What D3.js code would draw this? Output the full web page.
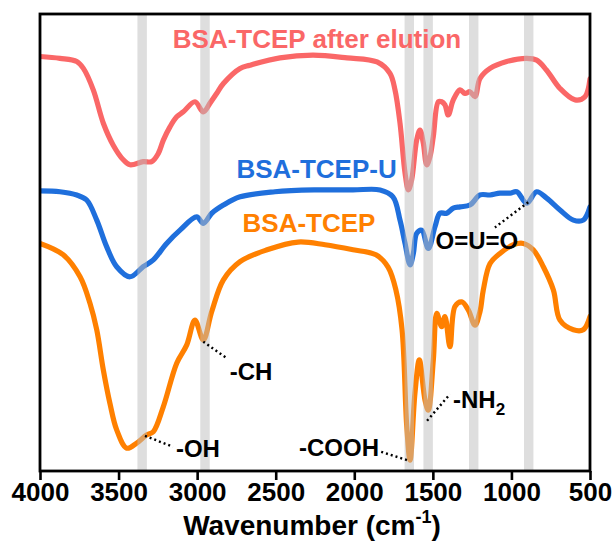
<!DOCTYPE html>
<html>
<head>
<meta charset="utf-8">
<script src="https://cdn.jsdelivr.net/npm/d3@7"></script>
<style>
  html, body { margin: 0; padding: 0; background: #fff; }
  svg { display: block; font-family: Arial, "Liberation Sans", sans-serif; font-weight: bold; }
</style>
</head>
<body>
<svg id="chart" width="615" height="542"></svg>
<script>
// FTIR spectra, [wavenumber cm-1, transmittance a.u.]
const afterElution = [
  [4000, 90.7], [3873, 90.3], [3766, 89.6], [3724, 88.1], [3661, 83.4], [3597, 76.1],
  [3534, 71.3], [3470, 68.1], [3427, 67.0], [3343, 67.7], [3289, 67.7], [3247, 69.5],
  [3215, 72.4], [3173, 75.3], [3130, 77.5], [3088, 78.6], [3014, 80.8], [2961, 78.6],
  [2918, 80.5], [2876, 82.6], [2833, 84.8], [2727, 88.1], [2664, 88.8], [2473, 90.4],
  [2263, 91.0], [2046, 90.4], [1855, 89.5], [1773, 87.0], [1741, 83.4], [1709, 76.1],
  [1677, 65.2], [1656, 61.5], [1635, 63.7], [1603, 72.4], [1582, 74.6], [1561, 71.8],
  [1539, 67.0], [1518, 68.8], [1497, 73.2], [1465, 80.8], [1444, 80.8], [1423, 80.1],
  [1402, 77.9], [1370, 81.2], [1327, 83.4], [1295, 82.6], [1264, 83.0], [1232, 81.9],
  [1200, 85.9], [1136, 88.1], [1030, 89.6], [903, 90.3], [839, 89.9], [776, 87.7],
  [691, 83.7], [595, 81.2], [532, 81.9], [500, 85.8]
]
const tcepU = [
  [4000, 61.3], [3873, 61.1], [3766, 60.4], [3703, 59.3], [3639, 54.9], [3576, 49.1],
  [3512, 44.7], [3427, 42.5], [3343, 44.7], [3279, 46.2], [3194, 49.8], [3109, 52.7],
  [3003, 55.6], [2961, 54.2], [2907, 56.4], [2833, 58.2], [2727, 60.0], [2505, 61.1],
  [2256, 61.5], [2008, 61.5], [1836, 61.5], [1754, 60.0], [1709, 54.9], [1677, 49.8],
  [1645, 45.1], [1624, 47.6], [1603, 52.0], [1571, 52.7], [1529, 48.7], [1486, 53.5],
  [1455, 56.4], [1412, 56.4], [1370, 57.5], [1327, 57.8], [1264, 58.2], [1200, 60.4],
  [1136, 60.4], [1073, 60.8], [1009, 60.8], [966, 61.1], [903, 58.6], [839, 61.1],
  [776, 59.7], [691, 57.1], [606, 54.9], [543, 54.9], [500, 57.8]
]
const tcep = [
  [4000, 49.8], [3852, 47.3], [3745, 42.5], [3682, 36.7], [3639, 30.9], [3597, 22.1],
  [3555, 14.8], [3512, 9.0], [3448, 5.0], [3385, 6.1], [3321, 7.9], [3279, 8.6],
  [3215, 14.1], [3130, 23.6], [3066, 27.6], [3014, 33.0], [2961, 28.7], [2907, 34.9],
  [2833, 41.8], [2727, 45.8], [2555, 48.4], [2358, 50.1], [2186, 49.5], [2008, 48.4],
  [1862, 47.3], [1785, 44.6], [1735, 39.6], [1696, 30.9], [1666, 9.7], [1645, 2.4],
  [1614, 17.0], [1586, 24.3], [1550, 15.5], [1529, 13.3], [1497, 24.3], [1475, 34.5],
  [1444, 31.6], [1423, 33.8], [1391, 27.2], [1359, 36.0], [1316, 37.0], [1274, 35.2],
  [1232, 31.9], [1200, 34.9], [1179, 39.6], [1136, 45.4], [1073, 47.6], [988, 49.5],
  [924, 49.8], [861, 48.4], [797, 44.7], [733, 39.6], [691, 33.0], [606, 30.9],
  [543, 30.9], [500, 33.8]
]

const seriesNames = ['BSA-TCEP after elution', 'BSA-TCEP-U', 'BSA-TCEP']
const seriesColors = ['#fa6767', '#1f6fdc', '#ff8000']
// where each series name sits [wavenumber, value]
const seriesLabelAt = [[2237, 92.6], [2240, 64.1], [2288, 52.3]]

// grey marker bands, cm-1
const bandCenters = [3350, 2950, 1650, 1530, 1240, 890]
const bandWidth = 60

// peak annotations: text, peak point, label end point
const annotations = [
  { text: '-OH', peak: [3332, 7.7], end: [3154, 5.3] },
  { text: '-CH', peak: [2961, 28.3], end: [2812, 24.7] },
  { text: '-COOH', peak: [1665, 2.4], end: [1830, 4.2] },
  { text: '-NH', sub: '2', peak: [1537, 11.0], end: [1391, 16.8] },
  { text: 'O=U=O', peak: [893, 58.8], end: [1105, 53.3] }
]

const xTicks = [4000, 3500, 3000, 2500, 2000, 1500, 1000, 500]

const margin = { top: 14, right: 25, bottom: 71, left: 40 }
const width = 615
const height = 542
const innerW = width - margin.left - margin.right
const innerH = height - margin.top - margin.bottom

const svg = d3.select('#chart')
const g = svg.append('g').attr('transform', `translate(${margin.left},${margin.top})`)

const x = d3.scaleLinear().domain([4000, 500]).range([0, innerW])
const y = d3.scaleLinear().domain([0, 100]).range([innerH, 0])

g.append('clipPath').attr('id', 'clip')
  .append('rect').attr('width', innerW).attr('height', innerH)

const line = d3.line()
  .x(d => x(d[0]))
  .y(d => y(d[1]))
  .curve(d3.curveCatmullRom.alpha(0.5))

const spectra = [afterElution, tcepU, tcep]
g.append('g').attr('clip-path', 'url(#clip)')
  .selectAll('path')
  .data(spectra)
  .join('path')
  .attr('d', line)
  .attr('fill', 'none')
  .attr('stroke', (d, i) => seriesColors[i])
  .attr('stroke-width', 5.2)
  .attr('stroke-linejoin', 'round')
  .attr('stroke-linecap', 'round')

// bands drawn over the lines, semi transparent
g.append('g')
  .selectAll('rect')
  .data(bandCenters)
  .join('rect')
  .attr('x', d => x(d + bandWidth / 2))
  .attr('width', d => x(d - bandWidth / 2) - x(d + bandWidth / 2))
  .attr('y', 0)
  .attr('height', innerH)
  .attr('fill', '#bdbdbd')
  .attr('opacity', 0.5)

// series labels
g.append('g')
  .selectAll('text')
  .data(seriesNames)
  .join('text')
  .attr('x', (d, i) => x(seriesLabelAt[i][0]))
  .attr('y', (d, i) => y(seriesLabelAt[i][1]))
  .attr('text-anchor', 'middle')
  .attr('font-size', 26)
  .attr('fill', (d, i) => seriesColors[i])
  .text(d => d)

// annotations
const ann = g.append('g')
ann.selectAll('line')
  .data(annotations)
  .join('line')
  .attr('x1', d => x(d.peak[0]))
  .attr('y1', d => y(d.peak[1]))
  .attr('x2', d => x(d.end[0]))
  .attr('y2', d => y(d.end[1]))
  .attr('stroke', '#000')
  .attr('stroke-width', 2.4)
  .attr('stroke-dasharray', '2,3')

const annText = ann.selectAll('text')
  .data(annotations)
  .join('text')
  .attr('font-size', 24)
  .attr('fill', '#000')
  .attr('text-anchor', d => d.text === '-COOH' ? 'end' : (d.text === 'O=U=O' ? 'middle' : 'start'))
  .attr('x', d => {
    if (d.text === '-COOH') return x(d.end[0]) - 2
    if (d.text === 'O=U=O') return x(d.end[0]) - 18
    return x(d.end[0]) + 3
  })
  .attr('y', d => {
    if (d.text === '-OH') return y(d.end[1]) + 10
    if (d.text === '-CH') return y(d.end[1]) + 22
    if (d.text === '-COOH') return y(d.end[1]) + 4
    if (d.text === '-NH') return y(d.end[1]) + 14
    return y(d.end[1]) + 22
  })
annText.append('tspan').text(d => d.text)
annText.filter(d => d.sub)
  .append('tspan')
  .attr('font-size', 17)
  .attr('dy', 7)
  .text(d => d.sub)

// x axis with minor ticks
const axisG = g.append('g').attr('transform', `translate(0,${innerH})`)
axisG.call(d3.axisBottom(x).tickValues(d3.range(4000, 499, -250)).tickSize(5).tickFormat(''))
axisG.call(d3.axisBottom(x).tickValues(xTicks).tickSize(9).tickFormat(d3.format('d')))
axisG.selectAll('.domain').remove()
axisG.selectAll('line').attr('stroke', '#000').attr('stroke-width', 2.6)
axisG.selectAll('text')
  .attr('font-size', 26)
  .attr('font-weight', 'bold')
  .attr('font-family', 'Arial, "Liberation Sans", sans-serif')
  .attr('fill', '#000')
  .attr('dy', '0.71em')
  .attr('y', 12)

// frame
g.append('rect')
  .attr('width', innerW)
  .attr('height', innerH)
  .attr('fill', 'none')
  .attr('stroke', '#000')
  .attr('stroke-width', 2.8)

// axis title
const title = svg.append('text')
  .attr('x', margin.left + innerW / 2 - 3)
  .attr('y', 535)
  .attr('text-anchor', 'middle')
  .attr('font-size', 28)
  .attr('fill', '#000')
title.append('tspan').text('Wavenumber (cm')
title.append('tspan').attr('font-size', 18).attr('dy', -12).text('-1')
title.append('tspan').attr('dy', 12).text(')')
</script>
</body>
</html>
